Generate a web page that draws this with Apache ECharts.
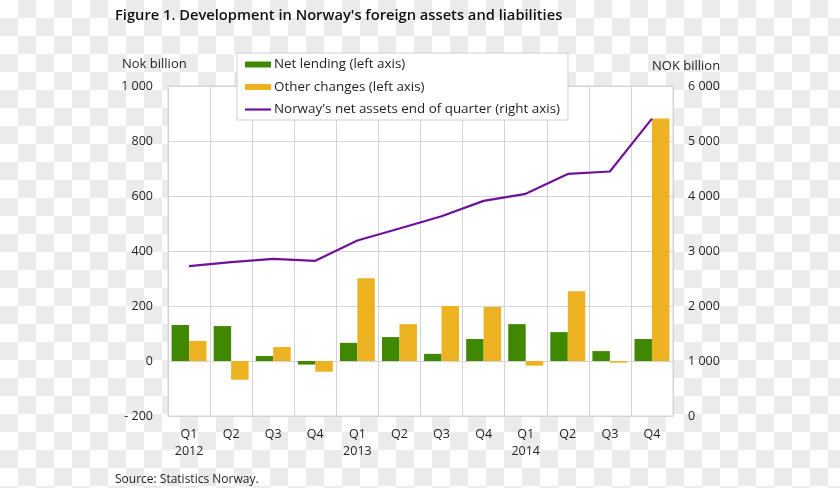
<!DOCTYPE html>
<html>
<head>
<meta charset="utf-8">
<script src="https://cdn.jsdelivr.net/npm/echarts@6/dist/echarts.min.js"></script>
<style>
html,body{margin:0;padding:0;}
body{width:840px;height:488px;background-color:#fff;
background-image:conic-gradient(#ebebeb 25%, transparent 0 50%, #ebebeb 0 75%, transparent 0);
background-size:36px 36px;}
#chart{width:840px;height:488px;}
</style>
</head>
<body>
<div id="chart"></div>
<script>
const categories = ['Q1\n2012','Q2','Q3','Q4','Q1\n2013','Q2','Q3','Q4','Q1\n2014','Q2','Q3','Q4'];
const netLending = [131, 127, 18, -13, 66, 87, 26, 80, 134, 105, 36, 80];
const otherChanges = [73, -68, 51, -39, 301, 134, 200, 196, -17, 254, -6, 882];
const netAssets = [2725, 2797, 2857, 2821, 3191, 3409, 3633, 3911, 4039, 4402, 4445, 5408];
const leftTicks = {min: -200, max: 1000, interval: 200};
const rightTicks = {min: 0, max: 6000, interval: 1000};

function fmt(v){
  const s = Math.abs(v).toString().replace(/\B(?=(\d{3})+(?!\d))/g, ' ');
  return v < 0 ? '- ' + s : s;
}
const FONT = '"Open Sans", "Liberation Sans", sans-serif';
const TXT = '#1e1e1e';
const chart = echarts.init(document.getElementById('chart'), null, {renderer:'canvas'});
chart.setOption({
  backgroundColor: 'transparent',
  animation: false,
  textStyle: {fontFamily: FONT},
  grid: {left:168, right:167, top:86, bottom:72, show:true, backgroundColor:'#fff', borderColor:'#d4d4d4', borderWidth:1},
  legend: {
    orient:'vertical', left:237, top:53, backgroundColor:'#fff', borderColor:'#d0d0d0', borderWidth:1,
    padding:[5,8,4,8], itemWidth:26, itemHeight:6, itemGap:9.5, symbolKeepAspect:true,
    textStyle:{fontFamily:FONT, fontSize:13.4, color:TXT, padding:[0,0,0,-2]},
    data:[{name:'Net lending (left axis)', icon:'rect'},{name:'Other changes (left axis)', icon:'rect'},{name:"Norway's net assets end of quarter (right axis)", icon:'path://M0 0H26V2.2H0Z'}]
  },
  xAxis: {
    type:'category', data:categories,
    axisLine:{show:true, onZero:false, lineStyle:{color:'#d4d4d4'}},
    axisTick:{show:false},
    splitLine:{show:true, lineStyle:{color:'#d4d4d4'}},
    axisLabel:{color:TXT, fontSize:12.5, fontFamily:FONT, lineHeight:17, margin:10, interval:0}
  },
  yAxis: [
    {type:'value', min:leftTicks.min, max:leftTicks.max, interval:leftTicks.interval,
     axisLine:{show:false}, axisTick:{show:false},
     splitLine:{show:true, lineStyle:{color:'#d4d4d4'}},
     axisLabel:{color:TXT, fontSize:12.5, fontFamily:FONT, margin:15, formatter:fmt}},
    {type:'value', min:rightTicks.min, max:rightTicks.max, interval:rightTicks.interval,
     axisLine:{show:false}, axisTick:{show:false}, splitLine:{show:false},
     axisLabel:{color:TXT, fontSize:12.5, fontFamily:FONT, margin:15, formatter:fmt}}
  ],
  series: [
    {name:'Net lending (left axis)', type:'bar', data:netLending, yAxisIndex:0, barGap:'0%', barCategoryGap:'17%', itemStyle:{color:'#3f8800'}},
    {name:'Other changes (left axis)', type:'bar', data:otherChanges, yAxisIndex:0, barGap:'0%', barCategoryGap:'17%', itemStyle:{color:'#ecb221'}},
    {name:"Norway's net assets end of quarter (right axis)", type:'line', data:netAssets, yAxisIndex:1, symbol:'none', lineStyle:{color:'#70119a', width:2.2}, itemStyle:{color:'#70119a'}, z:5}
  ],
  graphic: [
    {type:'text', left:115, top:8, style:{text:"Figure 1. Development in Norway's foreign assets and liabilities", fontFamily:FONT, fontWeight:600, fontSize:14.7, fill:'#111'}},
    {type:'text', left:122, top:58, style:{text:'Nok billion', fontFamily:FONT, fontSize:13, fill:TXT}},
    {type:'text', left:652, top:60, style:{text:'NOK billion', fontFamily:FONT, fontSize:13, fill:TXT}},
    {type:'text', left:115, top:474, style:{text:'Source: Statistics Norway.', fontFamily:FONT, fontSize:12, fill:TXT}}
  ]
});
</script>
</body>
</html>
